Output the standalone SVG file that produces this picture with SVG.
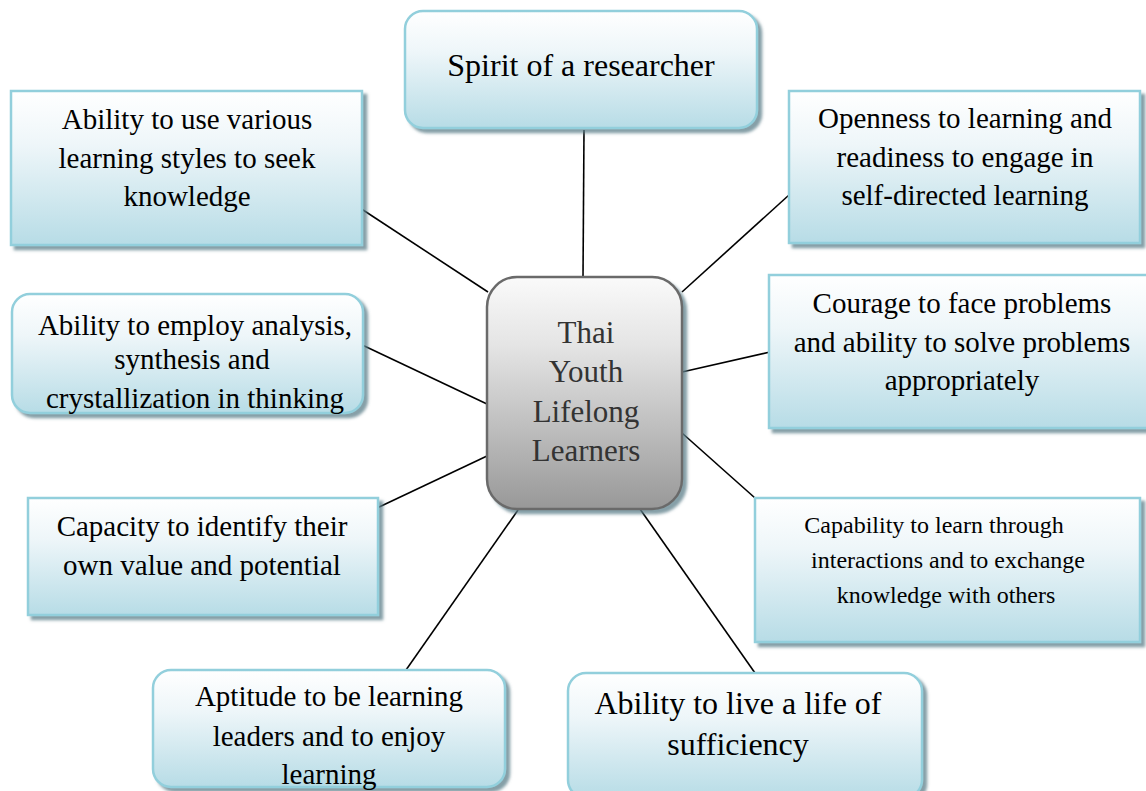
<svg xmlns="http://www.w3.org/2000/svg" width="1146" height="791" viewBox="0 0 1146 791">
<defs>
<linearGradient id="blue" x1="0" y1="0" x2="0" y2="1">
<stop offset="0" stop-color="#ffffff"/>
<stop offset="0.35" stop-color="#eef6f9"/>
<stop offset="1" stop-color="#b7dce6"/>
</linearGradient>
<linearGradient id="gray" x1="0" y1="0" x2="0" y2="1">
<stop offset="0" stop-color="#fafafa"/>
<stop offset="0.3" stop-color="#e4e4e4"/>
<stop offset="1" stop-color="#989898"/>
</linearGradient>
<filter id="sh" x="-5%" y="-5%" width="115%" height="115%">
<feGaussianBlur in="SourceAlpha" stdDeviation="1.5"/>
<feOffset dx="4" dy="4" result="b"/>
<feFlood flood-color="#5d7f8a" flood-opacity="0.75"/>
<feComposite in2="b" operator="in"/>
<feMerge><feMergeNode/><feMergeNode in="SourceGraphic"/></feMerge>
</filter>
</defs>
<style>
.box{fill:url(#blue);stroke:#92cfdc;stroke-width:2.5;filter:url(#sh)}
.ctr{fill:url(#gray);stroke:#6b6b6b;stroke-width:2.5;filter:url(#sh)}
.t{font-family:"Liberation Serif","Times New Roman",serif;font-size:29px;fill:#000;text-anchor:middle}
.tl{font-size:32px}
.ts{font-size:24px}
.tc{font-size:31px;fill:#333}
.c{stroke:#000;stroke-width:1.6;fill:none}
</style>
<rect width="1146" height="791" fill="#fff"/>
<g id="connectors">
<line class="c" x1="584" y1="130" x2="583" y2="277"/>
<line class="c" x1="360" y1="208" x2="488" y2="292"/>
<line class="c" x1="789" y1="195" x2="682" y2="292"/>
<line class="c" x1="770" y1="352" x2="682" y2="372"/>
<line class="c" x1="358" y1="343" x2="487" y2="404"/>
<line class="c" x1="377" y1="508" x2="487" y2="456"/>
<line class="c" x1="755" y1="498" x2="682" y2="433"/>
<line class="c" x1="406" y1="670" x2="518" y2="510"/>
<line class="c" x1="755" y1="673" x2="640" y2="509"/>
</g>
<g id="n-spirit">
<rect class="box" x="405" y="11" width="352" height="117" rx="18"/>
<text class="t tl" x="581" y="76">Spirit of a researcher</text>
</g>
<g id="n-styles">
<rect class="box" x="11" y="91" width="351" height="154"/>
<text class="t" x="187" y="129">Ability to use various</text>
<text class="t" x="187" y="168">learning styles to seek</text>
<text class="t" x="187" y="206">knowledge</text>
</g>
<g id="n-openness">
<rect class="box" x="789" y="91" width="351" height="152"/>
<text class="t" x="965" y="128">Openness to learning and</text>
<text class="t" x="965" y="167">readiness to engage in</text>
<text class="t" x="965" y="205">self-directed learning</text>
</g>
<g id="n-courage">
<rect class="box" x="769" y="275" width="380" height="153"/>
<text class="t" x="962" y="313">Courage to face problems</text>
<text class="t" x="962" y="352">and ability to solve problems</text>
<text class="t" x="962" y="390">appropriately</text>
</g>
<g id="n-analysis">
<rect class="box" x="12" y="294" width="351" height="119" rx="18"/>
<text class="t" x="195" y="335">Ability to employ analysis,</text>
<text class="t" x="192" y="369">synthesis and</text>
<text class="t" x="195" y="408">crystallization in thinking</text>
</g>
<g id="n-capacity">
<rect class="box" x="28" y="498" width="350" height="117"/>
<text class="t" x="202" y="536">Capacity to identify their</text>
<text class="t" x="202" y="575">own value and potential</text>
</g>
<g id="n-capability">
<rect class="box" x="755" y="498" width="385" height="144"/>
<text class="t ts" x="934" y="533">Capability to learn through</text>
<text class="t ts" x="948" y="568">interactions and to exchange</text>
<text class="t ts" x="946" y="603">knowledge with others</text>
</g>
<g id="n-aptitude">
<rect class="box" x="153" y="670" width="352" height="117" rx="18"/>
<text class="t" x="329" y="706">Aptitude to be learning</text>
<text class="t" x="329" y="746">leaders and to enjoy</text>
<text class="t" x="329" y="784">learning</text>
</g>
<g id="n-sufficiency">
<rect class="box" x="568" y="673" width="354" height="125" rx="18"/>
<text class="t tl" x="738" y="714">Ability to live a life of</text>
<text class="t tl" x="738" y="755">sufficiency</text>
</g>
<g id="n-center">
<rect class="ctr" x="487" y="277" width="195" height="232" rx="30"/>
<text class="t tc" x="586" y="343">Thai</text>
<text class="t tc" x="586" y="382">Youth</text>
<text class="t tc" x="586" y="422">Lifelong</text>
<text class="t tc" x="586" y="461">Learners</text>
</g>
</svg>
